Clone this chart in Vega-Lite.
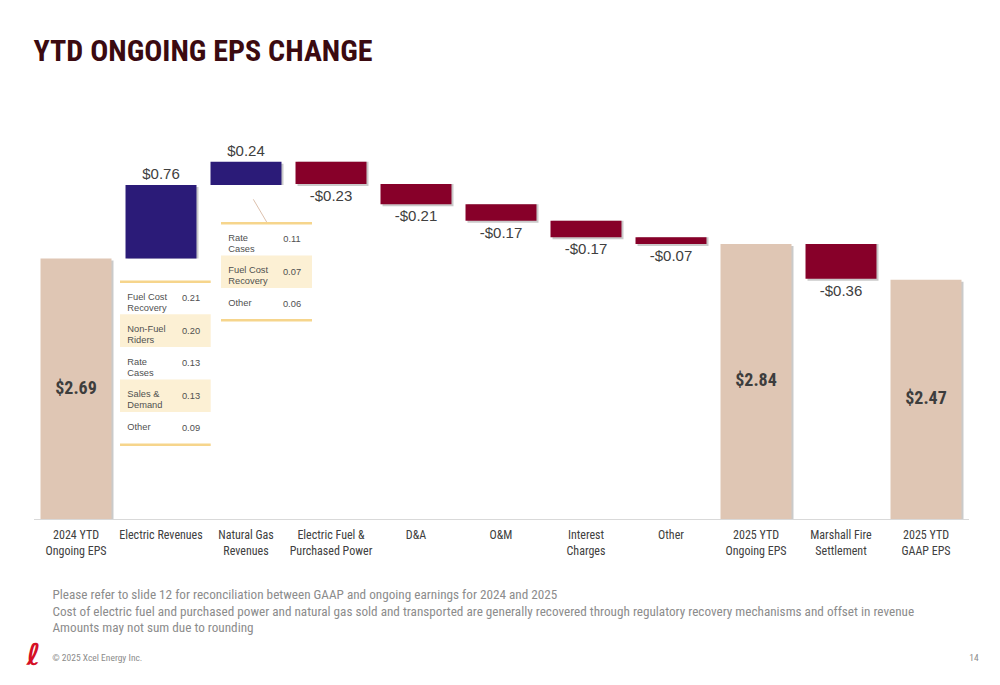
{
  "$schema": "https://vega.github.io/schema/vega-lite/v6.json",
  "width": 935,
  "height": 367,
  "autosize": {"type": "none"},
  "padding": {"left": 33.5, "top": 152, "right": 31.5, "bottom": 166},
  "background": "white",
  "config": {"view": {"stroke": null}, "axis": {"grid": false}},
  "title": {
    "text": "YTD ONGOING EPS CHANGE",
    "anchor": "start",
    "frame": "group",
    "font": "Roboto Condensed",
    "fontWeight": "bold",
    "fontSize": 30,
    "color": "#3b0a10",
    "baseline": "alphabetic",
    "offset": 53
  },
  "datasets": {
    "steps": [
      {"cat": "2024 YTD\nOngoing EPS", "start": 0, "end": 2.69, "kind": "total", "label": "$2.69"},
      {"cat": "Electric Revenues", "start": 2.69, "end": 3.45, "kind": "up", "label": "$0.76"},
      {"cat": "Natural Gas\nRevenues", "start": 3.45, "end": 3.69, "kind": "up", "label": "$0.24"},
      {"cat": "Electric Fuel &\nPurchased Power", "start": 3.69, "end": 3.46, "kind": "down", "label": "-$0.23"},
      {"cat": "D&A", "start": 3.46, "end": 3.25, "kind": "down", "label": "-$0.21"},
      {"cat": "O&M", "start": 3.25, "end": 3.08, "kind": "down", "label": "-$0.17"},
      {"cat": "Interest\nCharges", "start": 3.08, "end": 2.91, "kind": "down", "label": "-$0.17"},
      {"cat": "Other", "start": 2.91, "end": 2.84, "kind": "down", "label": "-$0.07"},
      {"cat": "2025 YTD\nOngoing EPS", "start": 0, "end": 2.84, "kind": "total", "label": "$2.84"},
      {"cat": "Marshall Fire\nSettlement", "start": 2.84, "end": 2.48, "kind": "down", "label": "-$0.36"},
      {"cat": "2025 YTD\nGAAP EPS", "start": 0, "end": 2.47, "kind": "total", "label": "$2.47"}
    ],
    "electric": [
      {"cat": "Electric Revenues", "row": 0, "label": "Fuel Cost\nRecovery", "value": "0.21"},
      {"cat": "Electric Revenues", "row": 1, "label": "Non-Fuel\nRiders", "value": "0.20"},
      {"cat": "Electric Revenues", "row": 2, "label": "Rate\nCases", "value": "0.13"},
      {"cat": "Electric Revenues", "row": 3, "label": "Sales &\nDemand", "value": "0.13"},
      {"cat": "Electric Revenues", "row": 4, "label": "Other", "value": "0.09"}
    ],
    "gas": [
      {"cat": "Natural Gas\nRevenues", "row": 0, "label": "Rate\nCases", "value": "0.11"},
      {"cat": "Natural Gas\nRevenues", "row": 1, "label": "Fuel Cost\nRecovery", "value": "0.07"},
      {"cat": "Natural Gas\nRevenues", "row": 2, "label": "Other", "value": "0.06"}
    ]
  },
  "encoding": {
    "x": {
      "field": "cat",
      "type": "nominal",
      "sort": null,
      "scale": {
        "domain": ["2024 YTD\nOngoing EPS", "Electric Revenues", "Natural Gas\nRevenues", "Electric Fuel &\nPurchased Power", "D&A", "O&M", "Interest\nCharges", "Other", "2025 YTD\nOngoing EPS", "Marshall Fire\nSettlement", "2025 YTD\nGAAP EPS"],
        "paddingInner": 0.165,
        "paddingOuter": 0.0825
      },
      "axis": {
        "labelExpr": "split(datum.label, '\\n')",
        "labelAngle": 0,
        "labelFont": "Roboto Condensed",
        "labelFontSize": 12,
        "labelColor": "#404040",
        "labelLineHeight": 16,
        "labelPadding": 10,
        "ticks": false,
        "domainColor": "#d9d9d9",
        "title": ["Please refer to slide 12 for reconciliation between GAAP and ongoing earnings for 2024 and 2025", "Cost of electric fuel and purchased power and natural gas sold and transported are generally recovered through regulatory recovery mechanisms and offset in revenue", "Amounts may not sum due to rounding"],
        "titleAnchor": "start",
        "titleAlign": "left",
        "titleX": 18.5,
        "titleY": 79.5,
        "titleBaseline": "alphabetic",
        "titleFont": "Roboto Condensed",
        "titleFontSize": 13.2,
        "titleFontWeight": "normal",
        "titleColor": "#8c8c8c",
        "titleLineHeight": 16.5
      }
    }
  },
  "layer": [
    {
      "data": {"name": "steps"},
      "encoding": {
        "y": {
          "field": "end",
          "type": "quantitative",
          "scale": {"domain": [0, 3.79], "nice": false, "zero": true},
          "axis": {
            "orient": "left",
            "labels": false,
            "ticks": false,
            "domain": false,
            "grid": false,
            "title": "© 2025 Xcel Energy Inc.",
            "titleAngle": 0,
            "titleX": 18.2,
            "titleY": 505,
            "titleAlign": "left",
            "titleBaseline": "middle",
            "titleFont": "Roboto Condensed",
            "titleFontSize": 9.5,
            "titleFontWeight": "normal",
            "titleColor": "#8c8c8c"
          }
        }
      },
      "layer": [
        {
          "mark": {"type": "bar", "color": "#8a8a8a", "opacity": 0.45, "xOffset": 2, "yOffset": 2},
          "encoding": {"y2": {"field": "start"}}
        },
        {
          "mark": {"type": "bar"},
          "encoding": {
            "y2": {"field": "start"},
            "color": {
              "field": "kind",
              "type": "nominal",
              "scale": {"domain": ["total", "up", "down"], "range": ["#dfc6b4", "#2b1b78", "#870029"]},
              "legend": null
            }
          }
        },
        {
          "transform": [{"filter": "datum.kind == 'up'"}],
          "mark": {"type": "text", "baseline": "alphabetic", "dy": -5.7, "font": "Liberation Sans", "fontSize": 15, "color": "#404040"},
          "encoding": {"text": {"field": "label"}}
        },
        {
          "transform": [{"filter": "datum.kind == 'down'"}],
          "mark": {"type": "text", "baseline": "top", "dy": 5, "font": "Liberation Sans", "fontSize": 15, "color": "#404040"},
          "encoding": {"text": {"field": "label"}}
        }
      ]
    },
    {
      "data": {"name": "steps"},
      "transform": [{"filter": "datum.kind == 'total'"}],
      "mark": {"type": "text", "font": "Roboto Condensed", "fontWeight": "bold", "fontSize": 18, "color": "#3d3d3d", "baseline": "middle"},
      "encoding": {
        "y": {"field": "end", "type": "quantitative", "scale": {"domain": [0, 7.58], "nice": false}, "axis": null},
        "text": {"field": "label"}
      }
    },
    {
      "data": {"name": "electric"},
      "encoding": {
        "y": {
          "field": "row",
          "type": "ordinal",
          "scale": {"type": "band", "domain": [0, 1, 2, 3, 4], "paddingInner": 0, "paddingOuter": 0, "range": [129.7, 292.7]},
          "axis": {
            "orient": "right",
            "labels": false,
            "ticks": false,
            "domain": false,
            "grid": false,
            "title": "14",
            "titleAngle": 0,
            "titleX": 5,
            "titleY": 505,
            "titleAlign": "center",
            "titleBaseline": "middle",
            "titleFont": "Roboto Condensed",
            "titleFontSize": 9.5,
            "titleFontWeight": "normal",
            "titleColor": "#8c8c8c"
          }
        }
      },
      "layer": [
        {
          "transform": [{"filter": "datum.row % 2 == 1"}],
          "mark": {"type": "rect", "color": "#fcf0d4", "width": 90.7, "xOffset": 4.35}
        },
        {
          "transform": [{"filter": "datum.row == 0"}],
          "mark": {"type": "tick", "orient": "horizontal", "size": 90.7, "thickness": 2.5, "color": "#f2c35b", "xOffset": 4.35, "yOffset": -16.3}
        },
        {
          "transform": [{"filter": "datum.row == 4"}],
          "mark": {"type": "tick", "orient": "horizontal", "size": 90.7, "thickness": 2.5, "color": "#f2c35b", "xOffset": 4.35, "yOffset": 16.3}
        },
        {
          "mark": {"type": "text", "align": "left", "baseline": "middle", "lineBreak": "\n", "lineHeight": 11, "font": "Liberation Sans", "fontSize": 9.3, "color": "#505050", "xOffset": -33.7, "dy": -1.5},
          "encoding": {"text": {"field": "label"}}
        },
        {
          "mark": {"type": "text", "align": "center", "baseline": "middle", "font": "Liberation Sans", "fontSize": 9.3, "color": "#505050", "xOffset": 30},
          "encoding": {"text": {"field": "value"}}
        }
      ]
    },
    {
      "data": {"name": "gas"},
      "encoding": {
        "y": {
          "field": "row",
          "type": "ordinal",
          "scale": {"type": "band", "domain": [0, 1, 2], "paddingInner": 0, "paddingOuter": 0, "range": [71.3, 168.2]},
          "axis": {
            "orient": "left",
            "labels": false,
            "ticks": false,
            "domain": false,
            "grid": false,
            "title": "ℓ",
            "titleAngle": 0,
            "titleX": -0.5,
            "titleY": 503,
            "titleAlign": "center",
            "titleBaseline": "middle",
            "titleFont": "DejaVu Sans",
            "titleFontSize": 30,
            "titleFontStyle": "italic",
            "titleFontWeight": "bold",
            "titleColor": "#d50f25"
          }
        }
      },
      "layer": [
        {
          "transform": [{"filter": "datum.row % 2 == 1"}],
          "mark": {"type": "rect", "color": "#fcf0d4", "width": 91, "xOffset": 20.5}
        },
        {
          "transform": [{"filter": "datum.row == 0"}],
          "mark": {"type": "tick", "orient": "horizontal", "size": 91, "thickness": 2.5, "color": "#f2c35b", "xOffset": 20.5, "yOffset": -16.15}
        },
        {
          "transform": [{"filter": "datum.row == 2"}],
          "mark": {"type": "tick", "orient": "horizontal", "size": 91, "thickness": 2.5, "color": "#f2c35b", "xOffset": 20.5, "yOffset": 16.15}
        },
        {
          "transform": [{"filter": "datum.row == 0"}],
          "mark": {"type": "rule", "color": "#dcc0ad", "strokeWidth": 1, "xOffset": 7.3, "x2Offset": 20.7, "yOffset": -40.15, "y2Offset": -17.4},
          "encoding": {"x2": {"field": "cat"}, "y2": {"field": "row"}}
        },
        {
          "mark": {"type": "text", "align": "left", "baseline": "middle", "lineBreak": "\n", "lineHeight": 11, "font": "Liberation Sans", "fontSize": 9.3, "color": "#505050", "xOffset": -17.7, "dy": -1.5},
          "encoding": {"text": {"field": "label"}}
        },
        {
          "mark": {"type": "text", "align": "center", "baseline": "middle", "font": "Liberation Sans", "fontSize": 9.3, "color": "#505050", "xOffset": 46},
          "encoding": {"text": {"field": "value"}}
        }
      ]
    }
  ],
  "resolve": {"scale": {"y": "independent"}, "axis": {"y": "independent"}}
}
